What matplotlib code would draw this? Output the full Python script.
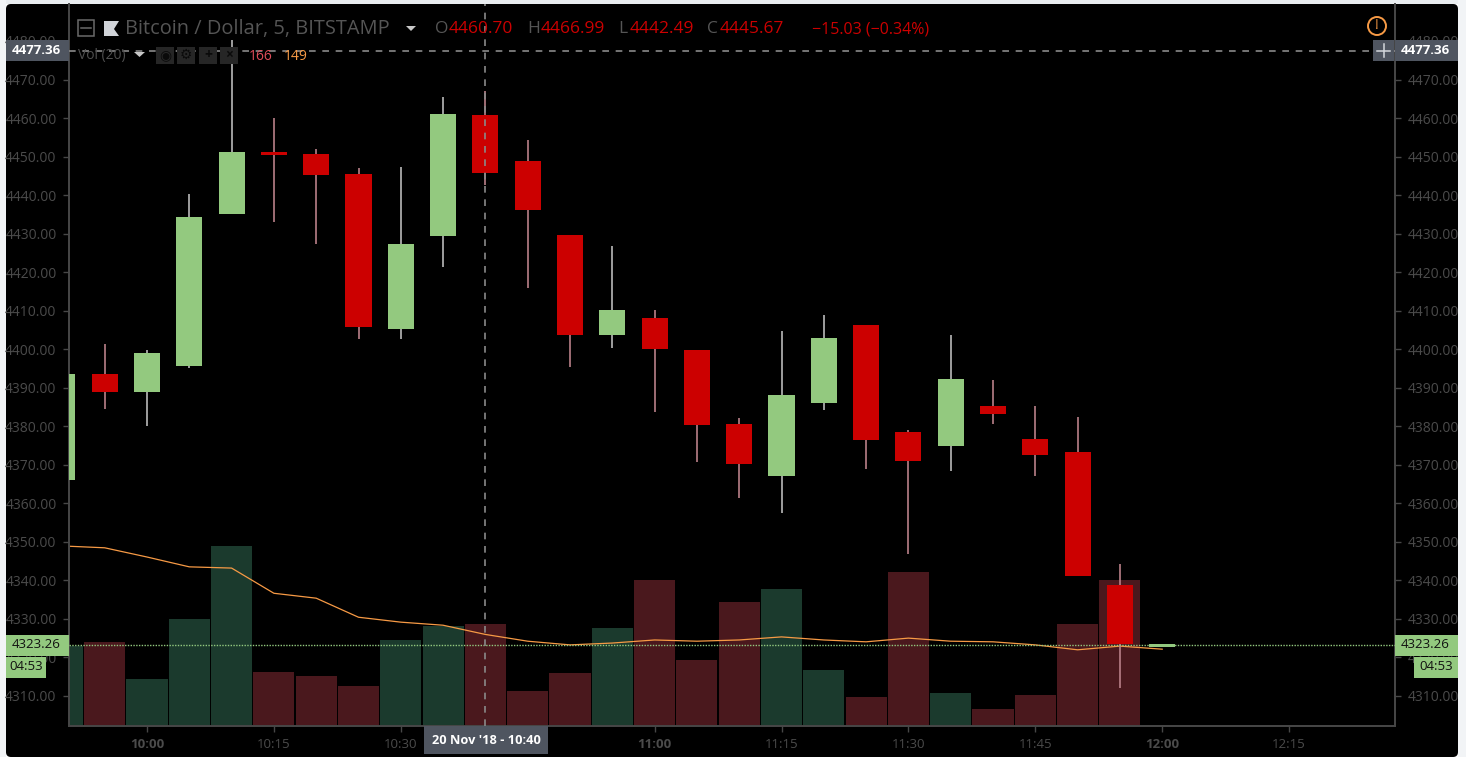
import matplotlib
matplotlib.use('Agg')
import matplotlib.pyplot as plt
from matplotlib.patches import FancyBboxPatch, Rectangle, Circle, Polygon

plt.rcParams['font.family'] = ['Open Sans', 'DejaVu Sans']

# ---- data ----
idx = list(range(-2, 25))
opens = [4366.0, 4393.6, 4388.9, 4395.6, 4435.1, 4451.2, 4450.7, 4445.5, 4405.2, 4429.4, 4460.7, 4448.8, 4429.6, 4403.7,
         4408.1, 4399.8, 4380.6, 4367.1, 4386.0, 4406.3, 4378.5, 4374.9, 4385.3, 4376.7, 4373.3, 4338.8, 4322.8]
closes = [4393.5, 4388.9, 4399.0, 4434.3, 4451.2, 4450.4, 4445.2, 4405.8, 4427.3, 4461.0, 4445.67, 4436.1, 4403.7, 4410.2,
          4400.0, 4380.3, 4370.2, 4388.1, 4402.9, 4376.4, 4371.0, 4392.3, 4383.2, 4372.5, 4341.1, 4323.5, 4323.6]
highs = [4393.5, 4401.4, 4399.8, 4440.3, 4480.3, 4460.0, 4452.0, 4447.0, 4447.3, 4465.5, 4466.99, 4454.3, 4429.6, 4426.8,
         4410.2, 4399.8, 4382.2, 4404.7, 4408.9, 4406.3, 4379.0, 4403.7, 4392.0, 4385.3, 4382.4, 4344.2, 4323.6]
lows = [4366.0, 4384.5, 4380.0, 4395.0, 4435.1, 4433.0, 4427.3, 4402.6, 4402.6, 4421.3, 4442.49, 4415.9, 4395.4, 4400.3,
        4383.7, 4370.7, 4361.4, 4357.5, 4384.2, 4369.0, 4346.8, 4368.4, 4380.6, 4367.0, 4341.1, 4312.0, 4322.8]
volume = [130, 137, 76, 174, 293, 88, 81, 65, 140, 163, 166, 57, 86, 159, 238, 107, 202, 223, 91, 47, 251, 54, 28, 50,
          166, 238, 0]
vol_ma = [293, 290, 275, 259, 257, 216, 208, 177, 169, 164, 149, 138, 132, 135, 140, 138, 140, 145, 140, 137, 143, 138,
          137, 132, 124, 130, 125]
price_ticks = [4310, 4320, 4330, 4340, 4350, 4360, 4370, 4380, 4390, 4400, 4410, 4420, 4430, 4440, 4450, 4460, 4470, 4480]
time_ticks = [0, 3, 6, 9, 12, 15, 18, 21, 24, 27]
time_labels = ['10:00', '10:15', '10:30', '10:45', '11:00', '11:15', '11:30', '11:45', '12:00', '12:15']
bold_times = ['10:00', '11:00', '12:00']
hover_index = 8
hover_price = 4477.36
last_price = 4323.26

W, H = 1466, 764
RED, GREEN = '#cc0000', '#93c97f'
VRED, VGREEN = '#4a181d', '#1b3a2d'
WRED, WGREEN = '#b98088', '#b9b9b9'
AXC, TXT = '#474747', '#4b4b4b'
L, R, T, B = 69, 1395, 4, 726

fig = plt.figure(figsize=(W / 100, H / 100), dpi=100, facecolor='#ffffff')

def px_ax(z):
    a = fig.add_axes([0, 0, 1, 1], zorder=z)
    a.set_xlim(0, W); a.set_ylim(H, 0); a.axis('off')
    a.patch.set_alpha(0)
    return a

back = px_ax(0)
back.add_patch(Rectangle((0, 0), W, 4, color='#e9edf0', lw=0))
back.add_patch(Rectangle((1458, 0), 8, 757, color='#f2f4f6', lw=0))
back.add_patch(Rectangle((0, 0), 6, 757, color='#f2f4f6', lw=0))
back.add_patch(FancyBboxPatch((9, 7), 1446, 747, boxstyle='round,pad=3,rounding_size=5', fc='black', ec='none'))

rect = [L / W, 1 - B / H, (R - L) / W, (B - T) / H]
vax = fig.add_axes(rect, zorder=1)
ax = fig.add_axes(rect, zorder=2)
ax.patch.set_alpha(0)
vax.set_facecolor('black')

xlim = ((L - 147) / 42.3, (R - 147) / 42.3)
ax.set_xlim(xlim); vax.set_xlim(xlim)
ax.set_ylim(4470 - (726 - 79.5) / 3.853, 4470 + 75.5 / 3.853)
vax.set_ylim(0, (B - T) / 0.6145)
vax.set_yticks([]); vax.set_xticks([])
for s in vax.spines.values():
    s.set_visible(False)

up = [c >= o for o, c in zip(opens, closes)]
vax.bar(idx, volume, width=0.97, color=[VGREEN if u else VRED for u in up], linewidth=0)
vax.plot(idx, vol_ma, color='#f79a45', lw=0.9)

ax.vlines(idx, lows, highs, colors=[WGREEN if u else WRED for u in up], lw=1.2, zorder=2)
ax.bar(idx, [abs(c - o) for o, c in zip(opens, closes)], bottom=[min(o, c) for o, c in zip(opens, closes)],
       width=0.615, color=[GREEN if u else RED for u in up], linewidth=0, zorder=3)

ax.axhline(last_price, color=GREEN, lw=1.0, ls=(0, (1, 1)), zorder=4)
ax.axhline(hover_price, color='#8a8a8a', lw=1.2, ls=(0, (4, 4)), zorder=4)
ax.axvline(hover_index, color='#8a8a8a', lw=1.2, ls=(0, (4, 4)), zorder=4)

ax.set_yticks(price_ticks)
ax.set_yticklabels([f'{p:.2f}' for p in price_ticks])
ax.set_xticks(time_ticks)
ax.set_xticklabels(time_labels)
ax.tick_params(axis='y', which='both', left=True, right=True, labelleft=True, labelright=True, length=4, width=1,
               color=AXC, labelcolor=TXT, labelsize=10, pad=5)
ax.tick_params(axis='x', length=4, width=1, color=AXC, labelcolor=TXT, labelsize=9.5, pad=5)
for t in ax.get_xticklabels():
    if t.get_text() in bold_times:
        t.set_fontweight('bold')
for k in ('top',):
    ax.spines[k].set_visible(False)
for k in ('left', 'right', 'bottom'):
    ax.spines[k].set_color(AXC)
    ax.spines[k].set_linewidth(1.4)

top = px_ax(5)
def y_of(p):
    return 79.5 + (4470 - p) * 3.853
yh, yl = y_of(hover_price), y_of(last_price)

# price / time tags
for x0, x1 in ((6, 69), (1395, 1458)):
    top.add_patch(Rectangle((x0, yh - 11), x1 - x0, 21, fc='#4f5560', ec='none'))
    top.text((x0 + x1) / 2 - 1, yh - 0.5, f'{hover_price:.2f}', color='white', fontsize=9.5, fontweight='bold', ha='center', va='center')
    top.add_patch(Rectangle((x0, yl - 10), x1 - x0, 21, fc=GREEN, ec='none'))
    top.text((x0 + x1) / 2 - 1, yl - 0.5, f'{last_price:.2f}', color='#111111', fontsize=9.5, ha='center', va='center')
for x0, x1 in ((6, 46), (1414, 1458)):
    top.add_patch(Rectangle((x0, 657), x1 - x0, 21, fc=GREEN, ec='none'))
    top.text((x0 + x1) / 2, 667, '04:53', color='#111111', fontsize=9.5, ha='center', va='center')
top.add_patch(Rectangle((424, 726), 124, 28, fc='#4f5560', ec='none'))
top.text(486, 740, "20 Nov '18 - 10:40", color='white', fontsize=9.2, fontweight='bold', ha='center', va='center')

# crosshair plus button
top.add_patch(Rectangle((1373, yh - 11), 21, 21, fc='#4f5560', ec='none'))
top.plot([1377, 1390], [yh, yh], color='#d5d8dc', lw=1.1)
top.plot([1383.5, 1383.5], [yh - 7, yh + 6], color='#d5d8dc', lw=1.1)

# warning icon
top.add_patch(Circle((1377, 26), 9, fc='none', ec='#f79a45', lw=1.4))
top.text(1377, 25.5, '!', color='#f79a45', fontsize=10, ha='center', va='center')

# header
top.add_patch(Rectangle((78, 20), 16, 16, fc='none', ec='#6a6a6a', lw=1.1))
top.plot([81, 91], [28, 28], color='#6a6a6a', lw=1.1)
top.add_patch(Polygon([(104, 21), (119, 21), (114, 29), (119, 36), (104, 36)], fc='#d0d3d8', ec='none'))
top.text(125, 29, 'Bitcoin / Dollar, 5, BITSTAMP', color='#555555', fontsize=14.4, ha='left', va='center')
top.add_patch(Polygon([(406, 26), (416, 26), (411, 31)], fc='#c8c8c8', ec='none'))
for x, lab, xv, val in ((435, 'O', 449, '4460.70'), (527, 'H', 541, '4466.99'), (618, 'L', 630, '4442.49'), (707, 'C', 720, '4445.67')):
    top.text(x, 29, lab, color='#555555', fontsize=12.5, ha='left', va='center')
    top.text(xv, 29, val, color=RED, fontsize=12.5, ha='left', va='center')
top.text(812, 29, '\u221215.03 (\u22120.34%)', color=RED, fontsize=11.5, ha='left', va='center')

# volume legend
top.text(78, 55, 'Vol (20)', color='#4f4f4f', fontsize=10, ha='left', va='center')
top.add_patch(Polygon([(134, 52), (145, 52), (139.5, 57)], fc='#c8c8c8', ec='none'))
for x in (156, 177, 199, 220):
    top.add_patch(Rectangle((x, 47), 18, 17, fc='#262626', ec='none'))
for x, s in zip((165, 186, 208, 229), ('\u25c9', '\u2699', '+', '\u00d7')):
    top.text(x, 55, s, color='#0a0a0a', fontsize=10, fontweight='bold', ha='center', va='center')
top.text(249, 56, '166', color='#e04d5a', fontsize=10, ha='left', va='center')
top.text(284, 56, '149', color='#f79a45', fontsize=10, ha='left', va='center')

fig.savefig('out.png', dpi=100, facecolor=fig.get_facecolor())
